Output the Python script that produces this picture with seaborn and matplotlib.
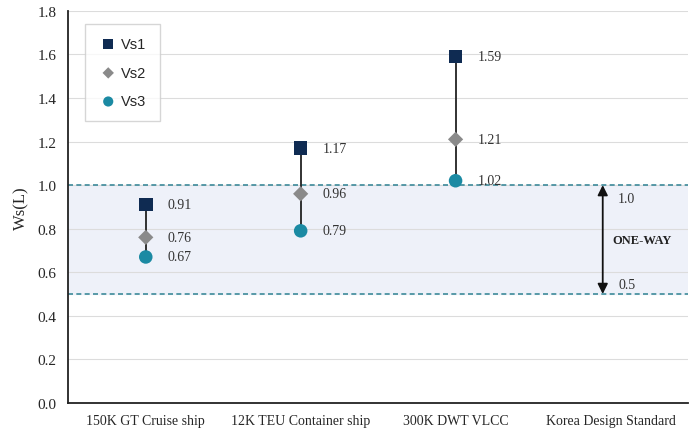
import numpy as np
import matplotlib
matplotlib.use('Agg')
import matplotlib.pyplot as plt
import pandas as pd
import seaborn as sns

ships = ['150K GT Cruise ship', '12K TEU Container ship', '300K DWT VLCC', 'Korea Design Standard']
vs1 = [0.91, 1.17, 1.59]
vs2 = [0.76, 0.96, 1.21]
vs3 = [0.67, 0.79, 1.02]
series = ['Vs1', 'Vs2', 'Vs3']
std_low, std_high = 0.5, 1.0

rows = []
for name, vals in zip(series, [vs1, vs2, vs3]):
    for i, v in enumerate(vals):
        rows.append({'pos': i, 'ship': ships[i], 'series': name, 'value': v})
df = pd.DataFrame(rows)

sns.set_style('white')
plt.rcParams['font.family'] = ['Liberation Serif', 'DejaVu Serif']

fig, ax = plt.subplots(figsize=(6.9, 4.39), dpi=100)
fig.subplots_adjust(left=0.099, right=0.997, top=0.973, bottom=0.080)

# one-way band
ax.axhspan(std_low, std_high, color='#eef1f9', zorder=0)
for y in np.arange(0.2, 1.81, 0.2):
    ax.axhline(y, color='#dcdcdc', lw=0.8, zorder=0.5)
for y in [std_low, std_high]:
    ax.axhline(y, color='#3d8a9a', lw=1.2, ls=(0, (3, 2)), zorder=1)

# connecting lines
ax.vlines(range(len(vs1)), vs3, vs1, color='#222222', lw=1.3, zorder=2)

palette = {'Vs1': '#0f2b52', 'Vs2': '#8a8a8a', 'Vs3': '#1b8aa3'}
markers = {'Vs1': 's', 'Vs2': 'D', 'Vs3': 'o'}
sizes = {'Vs1': 95, 'Vs2': 60, 'Vs3': 95}
for name in series:
    sub = df[df['series'] == name]
    sns.scatterplot(data=sub, x='pos', y='value', color=palette[name],
                    marker=markers[name], s=sizes[name], edgecolor='none',
                    label=name, ax=ax, zorder=3)

for _, r in df.iterrows():
    ax.text(r['pos'] + 0.14, r['value'], f"{r['value']:.2f}",
            va='center', ha='left', fontsize=10, color='#333333')

# design standard arrow
ax.annotate('', xy=(2.95, std_high), xytext=(2.95, std_low),
            arrowprops=dict(arrowstyle='<|-|>', color='#111111', lw=1.3,
                            mutation_scale=15, shrinkA=0, shrinkB=0))
ax.text(3.05, 0.94, '1.0', fontsize=10, color='#333333', va='center')
ax.text(3.05, 0.545, '0.5', fontsize=10, color='#333333', va='center')
ax.text(3.01, 0.75, 'ONE-WAY', fontsize=9, fontweight='bold', color='#222222', va='center')

ax.set_xlim(-0.5, 3.5)
ax.set_ylim(0, 1.8)
ax.set_yticks(np.arange(0, 1.81, 0.2))
ax.set_yticklabels([f'{v:.1f}' for v in np.arange(0, 1.81, 0.2)], fontsize=11)
ax.set_xticks([-0.5, 0.5, 1.5, 2.5, 3.5])
ax.set_xticklabels([])
ax.set_xticks(range(4), minor=True)
ax.set_xticklabels(ships, minor=True, fontsize=10)
ax.tick_params(axis='x', which='minor', length=0, pad=8)
ax.tick_params(axis='x', which='major', length=5, width=1.2, direction='out', color='#333333')
ax.tick_params(axis='y', length=5, width=1.2, direction='out', color='#333333')
ax.set_xlabel('')
ax.set_ylabel('Ws(L)', fontsize=12, labelpad=6)

for side in ['top', 'right']:
    ax.spines[side].set_visible(False)
for side in ['left', 'bottom']:
    ax.spines[side].set_color('#222222')
    ax.spines[side].set_linewidth(1.3)

leg = ax.legend(loc='upper left', bbox_to_anchor=(0.015, 0.985), frameon=True,
                fancybox=False, edgecolor='#cccccc', labelspacing=1.0,
                handletextpad=0.2, borderpad=0.9, handlelength=1.4,
                markerscale=0.75,
                prop={'family': 'Liberation Sans', 'size': 10.5})
leg.get_frame().set_linewidth(1.0)

fig.savefig('out.png', dpi=100)
